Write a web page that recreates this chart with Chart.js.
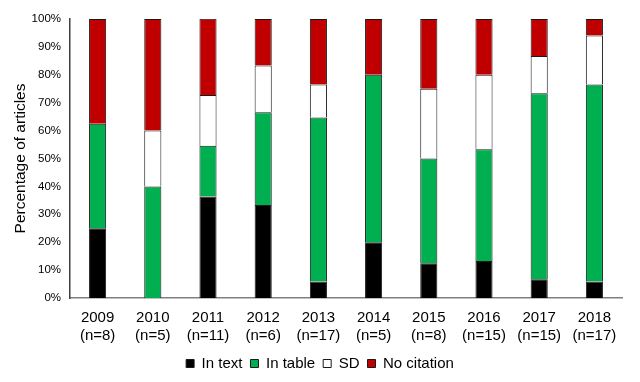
<!DOCTYPE html>
<html>
<head>
<meta charset="utf-8">
<script src="https://cdn.jsdelivr.net/npm/chart.js@4"></script>
<style>
html,body{margin:0;padding:0;background:#fff;}
#wrap{width:640px;height:382px;position:relative;}
</style>
</head>
<body>
<div id="wrap"><canvas id="c" width="640" height="382"></canvas></div>
<script>
const years = ['2009','2010','2011','2012','2013','2014','2015','2016','2017','2018'];
const nLabels = ['(n=8)','(n=5)','(n=11)','(n=6)','(n=17)','(n=5)','(n=8)','(n=15)','(n=15)','(n=17)'];
const inText     = [25.0, 0.0, 36.4, 33.3, 5.9, 20.0, 12.5, 13.3, 6.7, 5.9];
const inTable    = [37.5, 40.0, 18.2, 33.3, 58.8, 60.0, 37.5, 40.0, 66.7, 70.6];
const sd         = [0.0, 20.0, 18.2, 16.7, 11.8, 0.0, 25.0, 26.7, 13.3, 17.6];
const noCitation = [37.5, 40.0, 27.3, 16.7, 23.5, 20.0, 25.0, 20.0, 13.3, 5.9];
const yTicks = [0,10,20,30,40,50,60,70,80,90,100];

const FONT = "'Liberation Sans', Arial, sans-serif";
Chart.defaults.font.family = FONT;
Chart.defaults.color = '#000';

const labels = years.map((y,i)=>[y, nLabels[i]]);
function ds(label, data, color){
  return {label, data, backgroundColor: color, borderColor: '#1a1a1a', borderWidth: 1,
    barPercentage: 0.31, categoryPercentage: 1.0};
}
const legendFix = {
  id: 'legendFix',
  beforeLayout(chart){
    const lg = chart.legend;
    if (lg && !lg._fixed){
      const orig = lg.fit;
      lg.fit = function(){ orig.call(this); this.height = 26; };
      lg._fixed = true;
    }
  },
  afterLayout(chart){
    const lg = chart.legend;
    if (lg){
      lg.top += 2; lg.bottom += 2;
      lg.left += 9; lg.right += 9;
    }
  }
};
new Chart(document.getElementById('c'), {
  type: 'bar',
  data: {
    labels,
    datasets: [
      ds('In text', inText, '#000000'),
      ds('In table', inTable, '#00B050'),
      ds('SD', sd, '#FFFFFF'),
      ds('No citation', noCitation, '#C00000')
    ]
  },
  plugins: [legendFix],
  options: {
    responsive: false,
    animation: false,
    layout: {padding: {left: 0, right: 18, top: 19, bottom: 10}},
    plugins: {
      legend: {
        position: 'bottom',
        labels: {boxWidth: 8, boxHeight: 8, font: {size: 15}, padding: 8, color: '#000'}
      },
      tooltip: {enabled: false}
    },
    scales: {
      x: {
        stacked: true,
        grid: {display: false, drawTicks: false},
        border: {display: true, color: '#808080', width: 1.5},
        ticks: {font: {size: 15}, color: '#000', padding: 11, maxRotation: 0, autoSkip: false},
        afterFit: (s)=>{ s.height = 48; }
      },
      y: {
        stacked: true,
        min: 0, max: 100,
        afterBuildTicks: (s)=>{ s.ticks = yTicks.map(v=>({value:v})); },
        grid: {display: false, drawTicks: false},
        border: {display: true, color: '#404040', width: 1.5},
        ticks: {font: {size: 11.5}, color: '#000', padding: 9, callback: v=>v+'%'},
        title: {display: true, text: 'Percentage of articles', font: {size: 15.5}, color: '#000', padding: {top:11,bottom:0}},
        afterFit: (s)=>{ s.width = 70; }
      }
    }
  }
});
</script>
</body>
</html>
